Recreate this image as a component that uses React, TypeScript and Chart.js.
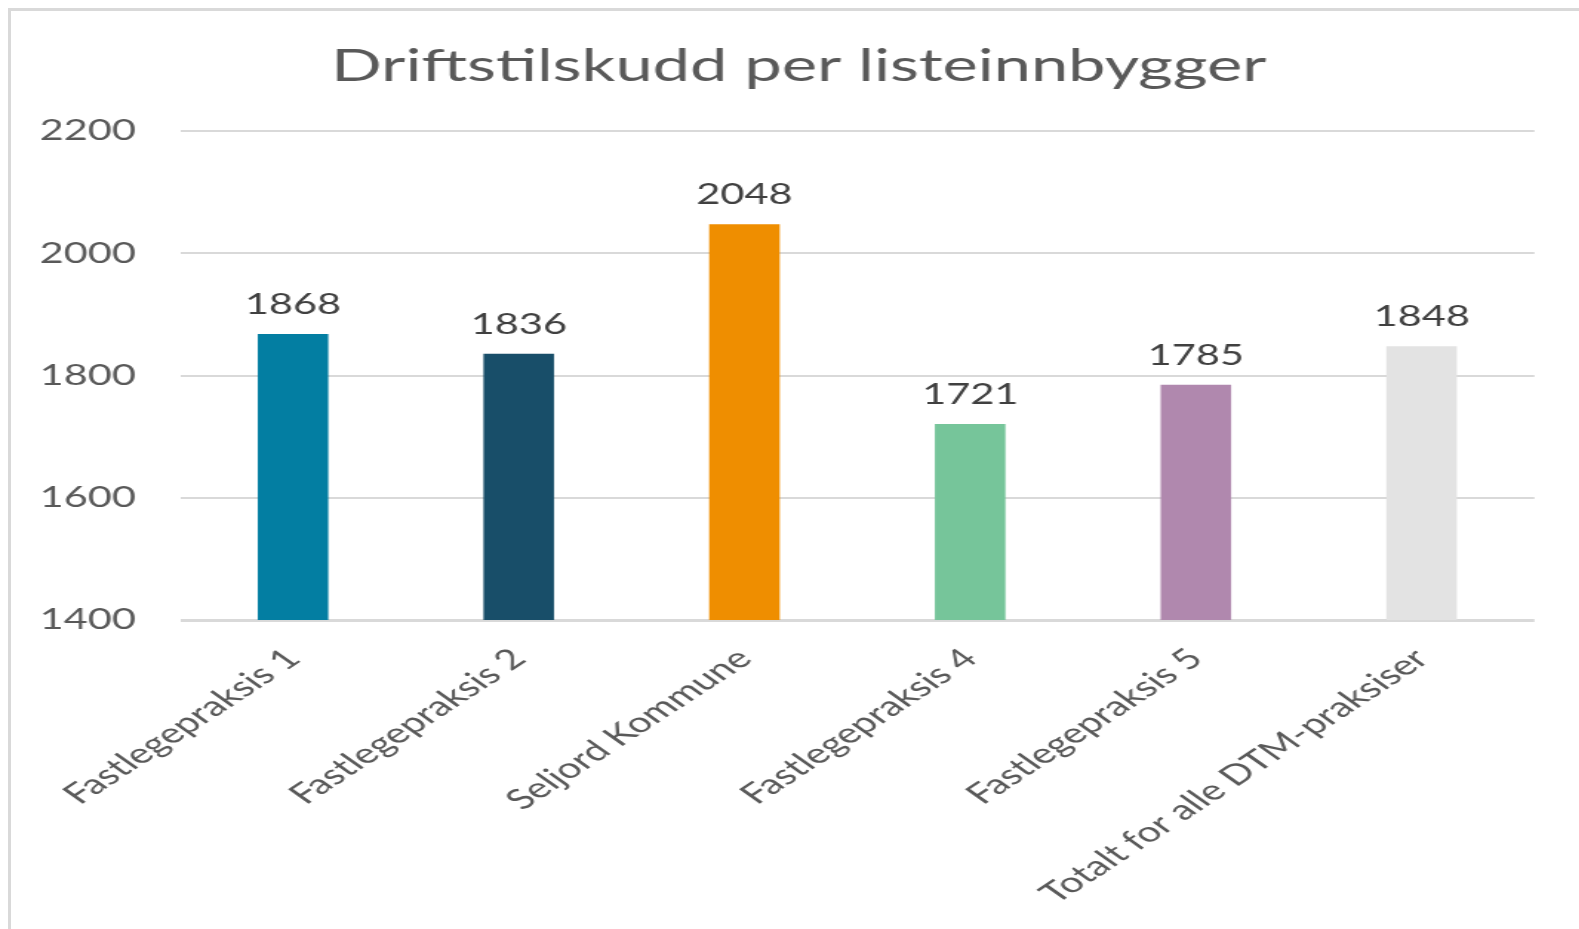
import React, { useEffect, useRef } from 'react';
import { Chart, registerables } from 'chart.js';

Chart.register(...registerables);

const categories = [
  'Fastlegepraksis 1',
  'Fastlegepraksis 2',
  'Seljord Kommune',
  'Fastlegepraksis 4',
  'Fastlegepraksis 5',
  'Totalt for alle DTM-praksiser',
];
const values = [1868, 1836, 2048, 1721, 1785, 1848];
const barColors = ['#037EA2', '#184E69', '#EF8E00', '#76C59A', '#B088AE', '#E3E3E3'];
const yTicks = [1400, 1600, 1800, 2000, 2200];
const titleText = 'Driftstilskudd per listeinnbygger';

const S = 1.48; // horizontal stretch of the reference picture
const PAGE_W = 1579;
const PAGE_H = 929;
const CW = PAGE_W / S;
const FONT = 'Lato, "Open Sans", sans-serif';

export default function App() {
  const ref = useRef<HTMLCanvasElement | null>(null);

  useEffect(() => {
    if (!ref.current) return;
    const titlePlugin = {
      id: 'pageTitle',
      afterDraw(chart: any) {
        const ctx = chart.ctx;
        ctx.save();
        ctx.font = `45px ${FONT}`;
        ctx.fillStyle = '#595959';
        ctx.textAlign = 'center';
        ctx.textBaseline = 'alphabetic';
        ctx.fillText(titleText, 798 / S, 81);
        ctx.restore();
      },
    };
    const valueLabels = {
      id: 'valueLabels',
      afterDatasetsDraw(chart: any) {
        const ctx = chart.ctx;
        const meta = chart.getDatasetMeta(0);
        ctx.save();
        ctx.font = `28px ${FONT}`;
        ctx.fillStyle = '#404040';
        ctx.textAlign = 'center';
        ctx.textBaseline = 'alphabetic';
        meta.data.forEach((el: any, i: number) => {
          ctx.fillText(String(values[i]), el.x, el.y - 20);
        });
        ctx.restore();
      },
    };
    const chart = new Chart(ref.current, {
      type: 'bar',
      data: {
        labels: categories,
        datasets: [
          {
            data: values,
            backgroundColor: barColors,
            barPercentage: 0.3125,
            categoryPercentage: 1,
          },
        ],
      },
      options: {
        animation: false,
        responsive: true,
        maintainAspectRatio: false,
        layout: { padding: { left: 0, right: 46 / S, top: 131.3, bottom: 0 } },
        plugins: {
          legend: { display: false },
          tooltip: { enabled: false },
          title: { display: false },
        },
        scales: {
          x: {
            grid: { display: false, drawTicks: false },
            border: { display: false },
            ticks: {
              color: '#595959',
              font: { family: FONT, size: 28 },
              minRotation: 44,
              maxRotation: 44,
              padding: 22,
              autoSkip: false,
            },
            afterFit(scale: any) {
              scale.height = PAGE_H - 620;
              scale.paddingLeft = 0;
              scale.paddingRight = 0;
            },
          },
          y: {
            min: 1400,
            max: 2200,
            afterBuildTicks(scale: any) {
              scale.ticks = yTicks.map((v) => ({ value: v }));
            },
            grid: {
              color: '#D9D9D9',
              lineWidth: (c: any) => (c.tick && c.tick.value === 1400 ? 3 : 2),
              drawTicks: false,
            },
            border: { display: false },
            ticks: {
              color: '#595959',
              font: { family: FONT, size: 28 },
              padding: 30,
              callback: (v: any) => String(v),
            },
            afterFit(scale: any) {
              scale.width = 180 / S;
            },
          },
        },
      },
      plugins: [titlePlugin, valueLabels],
    } as any);
    return () => chart.destroy();
  }, []);

  return (
    <div
      style={{
        position: 'fixed',
        left: 0,
        top: 0,
        width: PAGE_W,
        height: PAGE_H,
        overflow: 'hidden',
        background: '#FFFFFF',
      }}
    >
      <div
        style={{
          position: 'absolute',
          left: 8,
          top: 8,
          width: PAGE_W - 8,
          height: PAGE_H - 8,
          borderLeft: '3px solid #D9D9D9',
          borderTop: '3px solid #D9D9D9',
          boxSizing: 'border-box',
        }}
      />
      <div
        style={{
          position: 'absolute',
          left: 0,
          top: 0,
          width: CW,
          height: PAGE_H,
          transform: `scaleX(${S})`,
          transformOrigin: '0 0',
        }}
      >
        <canvas ref={ref} />
      </div>
    </div>
  );
}
